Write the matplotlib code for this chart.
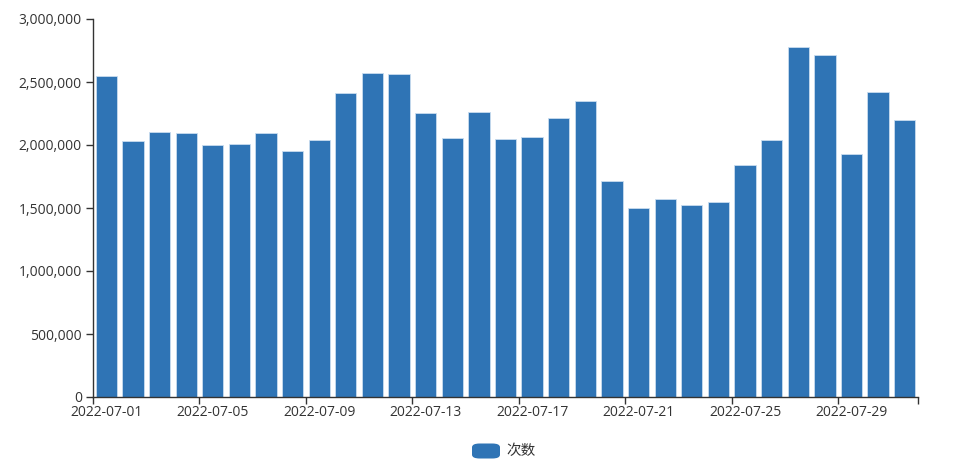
import numpy as np
import matplotlib.pyplot as plt
from matplotlib.patches import FancyBboxPatch
from matplotlib.ticker import FuncFormatter

plt.rcParams['font.family'] = ['Open Sans', 'Noto Sans CJK SC', 'DejaVu Sans']

# daily counts, July 2022
dates = [f'2022-07-{d:02d}' for d in range(1, 32)]
counts = [2548000, 2034000, 2103000, 2098000, 1998000, 2008000, 2098000, 1950000,
          2037000, 2415000, 2569000, 2563000, 2256000, 2058000, 2262000, 2045000,
          2061000, 2212000, 2352000, 1714000, 1500000, 1571000, 1526000, 1550000,
          1844000, 2037000, 2780000, 2712000, 1929000, 2418000, 2201000]
series_name = '次数'

bar_color = '#2f74b5'
axis_color = '#333333'

fig = plt.figure(figsize=(9.54, 4.72), dpi=100)
ax = fig.add_axes([93 / 954, 75 / 472, 825 / 954, 378 / 472])

x = np.arange(len(dates))
ax.bar(x, counts, width=0.8, color=bar_color, edgecolor='#c9dcef', linewidth=0.6,
       label=series_name)

ax.set_xlim(-0.5, len(dates) - 0.5)
ax.set_ylim(0, 3000000)

# y axis
ax.set_yticks(np.arange(0, 3000001, 500000))
ax.yaxis.set_major_formatter(FuncFormatter(lambda v, p: f'{int(v):,}'))

# x axis: labels every 4th day centred on bars, ticks on bar boundaries
label_idx = x[::4]
ax.set_xticks(label_idx)
ax.set_xticklabels([dates[i] for i in label_idx])
ax.tick_params(axis='x', which='major', length=0, pad=6)
ax.set_xticks(list(label_idx - 0.5) + [len(dates) - 0.5], minor=True)
ax.tick_params(axis='x', which='minor', length=5, color=axis_color, width=1)
ax.tick_params(axis='y', length=5, color=axis_color, width=1, pad=3)
ax.tick_params(labelsize=10, labelcolor=axis_color)

for s in ['top', 'right']:
    ax.spines[s].set_visible(False)
for s in ['left', 'bottom']:
    ax.spines[s].set_color(axis_color)
    ax.spines[s].set_linewidth(1)

# legend (echarts style, bottom centre)
lx, ly = 472 / 954, 21 / 472
fig.patches.append(FancyBboxPatch((lx, ly - 7.5 / 472), 28 / 954, 15 / 472,
                                  boxstyle='round,pad=0,rounding_size=0.008',
                                  transform=fig.transFigure, facecolor=bar_color,
                                  edgecolor='none'))
fig.text(lx + 34 / 954, ly, series_name, fontsize=10.5,
         family=['Noto Sans CJK SC', 'DejaVu Sans'], color=axis_color,
         va='center', ha='left')

fig.savefig('out.png', dpi=100)
